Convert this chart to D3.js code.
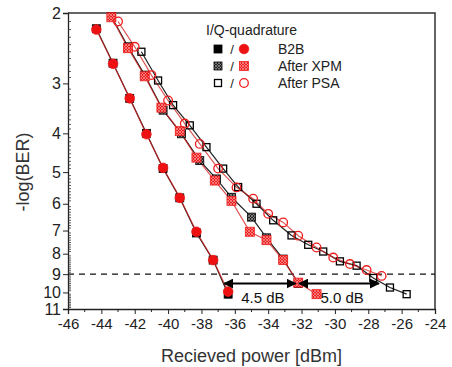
<!DOCTYPE html>
<html lang="en">
<head>
  <meta charset="UTF-8">
  <title>BER vs received power</title>
  <script src="https://cdnjs.cloudflare.com/ajax/libs/d3/7.8.5/d3.min.js"></script>
  <style>
    body { margin: 0; background: #fff; }
    svg { display: block; font-family: "Liberation Sans", Arial, sans-serif; }
  </style>
</head>
<body>
  <div id="chart"></div>

  <script>
    //axis ticks
    const xTicks = [-46, -44, -42, -40, -38, -36, -34, -32, -30, -28, -26, -24];
    const yTicks = [2, 3, 4, 5, 6, 7, 8, 9, 10, 11];

    //B2B (I = black square, Q = red circle)
    const b2bPower = [-44.3, -43.3, -42.3, -41.3, -40.3, -39.3, -38.3, -37.3, -36.4];
    const b2bI = [2.19, 2.67, 3.27, 4.0, 4.9, 5.8, 7.1, 8.3, 10.1];
    const b2bQ = [2.2, 2.68, 3.27, 4.02, 4.88, 5.8, 7.05, 8.3, 9.95];

    //after XPM
    const xpmPowerI = [-43.4, -42.4, -41.4, -40.3, -39.2, -38.1, -37.1, -36.2, -35.0, -34.1, -33.1, -32.2];
    const xpmI = [2.04, 2.43, 2.86, 3.5, 4.01, 4.68, 5.2, 5.78, 6.48, 7.3, 8.25, 9.5];
    const xpmPowerQ = [-43.4, -42.4, -41.4, -40.4, -39.3, -38.3, -37.2, -36.2, -35.1, -34.1, -33.1, -32.2, -31.1];
    const xpmQ = [2.05, 2.45, 2.88, 3.45, 3.95, 4.6, 5.25, 5.9, 7.05, 7.4, 8.3, 9.45, 10.1];

    //after PSA
    const psaPowerI = [-41.6, -40.6, -39.7, -38.7, -37.7, -36.7, -35.8, -34.7, -33.7, -32.6, -31.6, -30.7, -29.7, -28.7, -27.7, -26.7, -25.7];
    const psaI = [2.5, 2.95, 3.4, 3.82, 4.33, 4.9, 5.45, 6.0, 6.6, 7.2, 7.6, 7.9, 8.36, 8.57, 9.2, 9.72, 10.1];
    const psaPowerQ = [-43.0, -42.0, -41.0, -40.0, -39.0, -38.1, -37.0, -35.9, -34.9, -34.0, -33.1, -32.2, -31.1, -30.1, -29.1, -28.1, -27.2];
    const psaQ = [2.1, 2.43, 2.86, 3.31, 3.78, 4.25, 4.9, 5.46, 5.83, 6.36, 6.68, 7.21, 7.72, 8.18, 8.49, 8.79, 9.09];

    //FEC limit and power penalty arrows
    const berLimit = 9;
    const arrowLevel = 9.5;
    const penalties = [
      { from: -36.7, to: -32.3, label: "4.5 dB" },
      { from: -32.2, to: -27.3, label: "5.0 dB" }
    ];

    const legendRows = ["B2B", "After XPM", "After PSA"];

    //size of canvas
    let width = 452;
    let height = 367;
    let margin = { top: 13, right: 17, bottom: 58, left: 68 };

    let svg = d3.select('#chart')
      .append('svg')
      .attr('width', width)
      .attr('height', height);

    let defs = svg.append('defs');

    //hatched fills for the XPM markers
    let redHatch = defs.append('pattern')
      .attr('id', 'redHatch')
      .attr('width', 3).attr('height', 3)
      .attr('patternUnits', 'userSpaceOnUse');
    redHatch.append('rect').attr('width', 3).attr('height', 3).attr('fill', '#ee1c1c');
    redHatch.append('path').attr('d', 'M0,0L3,3M3,0L0,3').attr('stroke', '#f8a0a0').attr('stroke-width', 0.7);

    let blackHatch = defs.append('pattern')
      .attr('id', 'blackHatch')
      .attr('width', 3).attr('height', 3)
      .attr('patternUnits', 'userSpaceOnUse');
    blackHatch.append('rect').attr('width', 3).attr('height', 3).attr('fill', '#222');
    blackHatch.append('path').attr('d', 'M0,0L3,3M3,0L0,3').attr('stroke', '#999').attr('stroke-width', 0.7);

    defs.append('marker')
      .attr('id', 'head')
      .attr('viewBox', '0 0 10 10')
      .attr('refX', 9).attr('refY', 5)
      .attr('markerWidth', 5).attr('markerHeight', 5)
      .attr('orient', 'auto-start-reverse')
      .append('path')
      .attr('d', 'M0,0L10,5L0,10z')
      .attr('fill', '#000');

    //scales
    let x = d3.scaleLinear()
      .domain([-46, -24])
      .range([margin.left, width - margin.right]);

    let y = d3.scaleLog()
      .domain([2, 11])
      .range([margin.top, height - margin.bottom]);

    let plotW = width - margin.right - margin.left;
    let plotH = height - margin.bottom - margin.top;

    //minor ticks
    let xMinor = d3.range(-45, -24, 2);
    let yMinor = d3.range(21, 110, 1).map(d => d / 10).filter(d => !Number.isInteger(d));

    //x axis
    let xAxis = svg.append('g')
      .attr('transform', `translate(0,${height - margin.bottom})`)
      .call(d3.axisBottom(x).tickValues(xTicks).tickSize(5).tickPadding(4).tickFormat(d => d));
    xAxis.selectAll('text').attr('font-size', 15).attr('fill', '#222');
    xAxis.selectAll('.tick').filter(d => d === -24).select('line').remove();
    xAxis.selectAll('.tick').filter(d => d === -46).select('line').remove();
    xAxis.selectAll('.tick line').attr('stroke', '#222');
    xAxis.select('.domain').attr('stroke', '#222').attr('stroke-width', 1.3);

    svg.append('g').selectAll('line').data(xMinor).join('line')
      .attr('x1', d => x(d)).attr('x2', d => x(d))
      .attr('y1', height - margin.bottom).attr('y2', height - margin.bottom + 3)
      .attr('stroke', '#222');

    //y axis
    let yAxis = svg.append('g')
      .attr('transform', `translate(${margin.left},0)`)
      .call(d3.axisLeft(y).tickValues(yTicks).tickSize(5).tickPadding(2).tickFormat(d3.format('d')));
    yAxis.selectAll('text').attr('font-size', 16).attr('fill', '#222');
    yAxis.selectAll('.tick line').attr('stroke', '#222');
    yAxis.select('.domain').attr('stroke', '#222').attr('stroke-width', 1.3);

    svg.append('g').selectAll('line').data(yMinor).join('line')
      .attr('x1', margin.left).attr('x2', margin.left + 3)
      .attr('y1', d => y(d)).attr('y2', d => y(d))
      .attr('stroke', '#333').attr('stroke-width', 0.8);

    //top and right frame
    svg.append('path')
      .attr('d', `M${margin.left},${margin.top}H${width - margin.right}V${height - margin.bottom}`)
      .attr('fill', 'none')
      .attr('stroke', '#333')
      .attr('stroke-width', 1.5);

    //axis titles
    svg.append('text')
      .attr('x', x(-35))
      .attr('y', 362)
      .attr('text-anchor', 'middle')
      .attr('font-size', 18)
      .attr('fill', '#333')
      .text('Recieved power [dBm]');

    svg.append('text')
      .attr('transform', `translate(29,${172}) rotate(-90)`)
      .attr('text-anchor', 'middle')
      .attr('font-size', 18)
      .attr('fill', '#333')
      .text('-log(BER)');

    //FEC dashed line
    svg.append('line')
      .attr('x1', margin.left).attr('x2', width - margin.right)
      .attr('y1', y(berLimit)).attr('y2', y(berLimit))
      .attr('stroke', '#111')
      .attr('stroke-width', 1.3)
      .attr('stroke-dasharray', '6,5');

    //curves
    let line = d3.line().x(d => x(d[0])).y(d => y(d[1]));

    let series = [
      { px: b2bPower, v: b2bI, kind: 'I', mark: 'fill' },
      { px: xpmPowerI, v: xpmI, kind: 'I', mark: 'hatch' },
      { px: psaPowerI, v: psaI, kind: 'I', mark: 'open' },
      { px: b2bPower, v: b2bQ, kind: 'Q', mark: 'fill' },
      { px: xpmPowerQ, v: xpmQ, kind: 'Q', mark: 'hatch' },
      { px: psaPowerQ, v: psaQ, kind: 'Q', mark: 'open' }
    ];

    series.forEach(s => {
      let pts = s.px.map((p, i) => [p, s.v[i]]);
      svg.append('path')
        .datum(pts)
        .attr('d', line)
        .attr('fill', 'none')
        .attr('stroke', s.kind === 'I' ? '#222' : '#d51c1c')
        .attr('stroke-opacity', s.kind === 'I' ? 1 : 0.75)
        .attr('stroke-width', 1.2);
    });

    function drawMarker(g, kind, mark, cx, cy) {
      if (kind === 'I') {
        let s = mark === 'open' ? 7 : 8;
        g.append('rect')
          .attr('x', cx - s / 2).attr('y', cy - s / 2)
          .attr('width', s).attr('height', s)
          .attr('fill', mark === 'fill' ? '#000' : mark === 'hatch' ? 'url(#blackHatch)' : 'none')
          .attr('stroke', '#000')
          .attr('stroke-width', mark === 'open' ? 1.3 : 0.8);
      } else if (mark === 'hatch') {
        g.append('rect')
          .attr('x', cx - 4.5).attr('y', cy - 4.5)
          .attr('width', 9).attr('height', 9)
          .attr('fill', 'url(#redHatch)')
          .attr('stroke', '#ee1c1c')
          .attr('stroke-width', 0.8);
      } else {
        g.append('circle')
          .attr('cx', cx).attr('cy', cy)
          .attr('r', mark === 'open' ? 4.3 : 4.8)
          .attr('fill', mark === 'fill' ? '#ee1111' : 'none')
          .attr('stroke', '#ee1c1c')
          .attr('stroke-width', mark === 'open' ? 1.3 : 0.8);
      }
    }

    let marks = svg.append('g');
    series.forEach(s => {
      s.px.forEach((p, i) => drawMarker(marks, s.kind, s.mark, x(p), y(s.v[i])));
    });

    //power penalty arrows
    penalties.forEach(p => {
      svg.append('line')
        .attr('x1', x(p.from) + 1).attr('x2', x(p.to) - 1)
        .attr('y1', y(arrowLevel)).attr('y2', y(arrowLevel))
        .attr('stroke', '#000')
        .attr('stroke-width', 2)
        .attr('marker-start', 'url(#head)')
        .attr('marker-end', 'url(#head)');

      svg.append('text')
        .attr('x', x((p.from + p.to) / 2) + 3)
        .attr('y', y(10.3))
        .attr('dy', '0.35em')
        .attr('text-anchor', 'middle')
        .attr('font-size', 15)
        .attr('fill', '#111')
        .text(p.label);
    });

    //legend
    let legend = svg.append('g');
    legend.append('text')
      .attr('x', 206).attr('y', 30)
      .attr('dy', '0.35em')
      .attr('font-size', 14)
      .attr('fill', '#222')
      .text('I/Q-quadrature');

    let kinds = ['fill', 'hatch', 'open'];
    legendRows.forEach((name, i) => {
      let ry = 49 + i * 17;
      drawMarker(legend, 'I', kinds[i], 218, ry);
      legend.append('text')
        .attr('x', 232).attr('y', ry).attr('dy', '0.35em')
        .attr('text-anchor', 'middle')
        .attr('font-size', 13).attr('fill', '#222')
        .text('/');
      drawMarker(legend, 'Q', kinds[i], 244, ry);
      legend.append('text')
        .attr('x', 278).attr('y', ry).attr('dy', '0.35em')
        .attr('font-size', 14).attr('fill', '#222')
        .text(name);
    });
  </script>
</body>
</html>
